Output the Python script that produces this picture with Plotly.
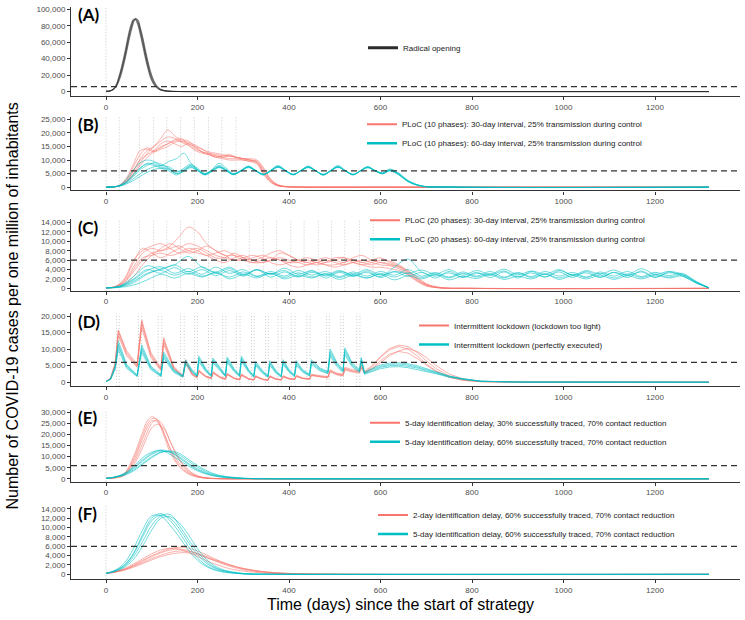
import plotly.graph_objects as go

# ---------------- DATA (values in thousands of cases per million) ----------------
threshold = 6000

# (A) Radical opening
A_days = [0, 10, 20, 30, 40, 50, 55, 60, 65, 70, 75, 80, 90, 100, 110, 120, 135, 150, 175, 200, 1318]
A_runs = [
    [0.3, 1, 5, 19, 40, 67, 78, 86, 88, 84, 74, 62, 36, 16, 6, 2, 0.5, 0.15, 0.03, 0.01, 0],
    [0.2, 0.8, 4, 15, 35, 61, 73, 83, 88.5, 87, 78, 67, 41, 20, 8, 2.8, 0.7, 0.2, 0.04, 0.01, 0],
    [0.3, 1.2, 6, 22, 45, 72, 82, 88, 86.5, 80, 69, 56, 31, 13, 5, 1.6, 0.4, 0.1, 0.03, 0.01, 0],
    [0.25, 0.9, 4.5, 17, 38, 64, 76, 85, 89, 85.5, 76, 64, 38, 18, 7, 2.4, 0.6, 0.15, 0.03, 0.01, 0],
    [0.28, 1.05, 5.3, 20, 42, 69, 80, 87, 87.5, 82, 71, 59, 33.5, 14.5, 5.5, 1.8, 0.45, 0.12, 0.03, 0.01, 0],
]

# (B) PLoC 10 phases
B_red_days = [0, 20, 30, 45, 60, 75, 90, 105, 120, 135, 150, 165, 180, 195, 210, 225, 240, 255, 270, 285,
              300, 315, 330, 345, 360, 375, 390, 420, 500, 700, 1318]
B_red_runs = [
    [0, 0.2, 0.6, 2.5, 6, 10.5, 13.5, 15, 17, 18.5, 18, 16.5, 15.5, 14, 13, 12.5, 12, 11.5, 11.5, 11, 10.5, 10, 9.5, 6, 2.5, 0.8, 0.3, 0.05, 0, 0, 0],
    [0, 0.2, 0.5, 2, 5, 9, 12.5, 15, 18, 21, 19, 17, 16, 15, 14, 13, 12.5, 12, 11.5, 11, 10.5, 10, 9, 5.5, 2.2, 0.7, 0.2, 0.05, 0, 0, 0],
    [0, 0.2, 0.7, 3, 7.5, 12, 14.5, 13.5, 15, 16, 17.5, 18, 15.5, 13.5, 12.5, 12, 11, 11.5, 12, 11, 10.5, 10.5, 10, 7, 3, 1, 0.3, 0.05, 0, 0, 0],
    [0, 0.15, 0.5, 1.8, 4.5, 8, 11, 13, 14.5, 16, 17, 17.5, 17, 15, 13, 12, 11.5, 11, 10.5, 10.5, 10, 9.5, 9, 5, 2, 0.6, 0.2, 0.05, 0, 0, 0],
    [0, 0.2, 0.6, 2.4, 6, 10, 12, 13.5, 16, 17, 16, 15, 16, 14.5, 13, 12, 11, 10.5, 10, 10, 10, 9.5, 8.5, 4.5, 1.8, 0.5, 0.2, 0.05, 0, 0, 0],
    [0, 0.2, 0.8, 3.5, 8.5, 13.5, 14, 13, 14, 15, 16.5, 17, 16.5, 15.5, 14, 12.5, 11.5, 11, 11.5, 11, 10.5, 10, 9.5, 6.5, 2.8, 0.9, 0.3, 0.05, 0, 0, 0],
]
B_cyan_days = [0, 20, 30, 45, 60, 75, 90, 105, 120, 137, 154, 170, 185, 200, 216, 232, 247, 263, 278, 295,
               311, 327, 344, 360, 376, 392, 409, 425, 442, 458, 475, 491, 507, 523, 540, 556, 572, 588, 605, 620,
               640, 660, 690, 750, 1318]
B_cyan_runs = [
    [0, 0.2, 0.6, 2.2, 4.8, 7.2, 8.5, 8, 7, 6, 4.5, 6, 7.5, 6, 4.5, 6, 7.5, 6, 4.6, 6, 7.4, 6, 4.5, 6, 7.5, 6, 4.6, 6, 7.4, 6, 4.5, 6, 7.5, 6, 4.6, 6, 7.3, 6, 5, 6.2, 4.8, 2.2, 0.4, 0.05, 0],
    [0, 0.2, 0.7, 3, 6.5, 9, 10, 9.5, 8, 9.5, 10.5, 12.5, 9, 6.5, 5, 6.5, 8, 6.5, 5, 6, 7.5, 6.2, 4.8, 6.2, 7.6, 6.2, 4.7, 5.9, 7.3, 6, 4.7, 6.2, 7.6, 6.1, 4.7, 6, 7.4, 6.1, 5.2, 6.5, 5, 2.4, 0.5, 0.05, 0],
    [0, 0.15, 0.4, 1.2, 2.5, 4, 5.5, 6.5, 7, 6.5, 5, 5.8, 7.2, 6.2, 4.8, 6, 7.2, 6, 4.7, 5.9, 7.2, 6.1, 4.8, 5.9, 7.3, 6.1, 4.8, 5.9, 7.2, 6.1, 4.8, 5.9, 7.3, 6.1, 4.8, 5.9, 7.1, 6.1, 5, 6, 4.5, 2, 0.35, 0.05, 0],
    [0, 0.2, 0.5, 1.8, 4, 6.5, 8, 9, 8.5, 7, 5.5, 7, 8.5, 7, 5, 6.5, 8.8, 7, 5, 6.2, 7.8, 6.3, 4.6, 6.3, 8, 6.3, 4.5, 6.1, 7.8, 6.2, 4.4, 6.2, 8, 6.2, 4.5, 6.1, 7.6, 6.2, 5.3, 6.7, 5.2, 2.5, 0.45, 0.05, 0],
    [0, 0.15, 0.45, 1.5, 3.2, 5, 6.5, 7.5, 8, 7.5, 6, 6.2, 7.8, 6.5, 4.6, 5.8, 7.4, 6.3, 4.7, 6.1, 7.6, 6.1, 4.7, 6.1, 7.6, 6.1, 4.6, 6, 7.5, 6.1, 4.6, 6.1, 7.5, 6, 4.6, 6.1, 7.4, 6, 4.9, 6.1, 4.6, 2.1, 0.4, 0.05, 0],
    [0, 0.2, 0.55, 2, 4.5, 7, 8.8, 8.5, 7.5, 6.8, 5, 6.5, 8, 6.4, 4.7, 6.2, 7.6, 6.2, 4.6, 6, 7.5, 6, 4.6, 6, 7.5, 6, 4.7, 6.1, 7.6, 6.1, 4.6, 6, 7.4, 6, 4.6, 6, 7.4, 6, 5.1, 6.3, 4.9, 2.3, 0.42, 0.05, 0],
]
B_phase_days = [0, 29, 73, 104, 133, 163, 193, 224, 253, 284]

# (C) PLoC 20 phases
C_red_days = [0, 20, 40, 60, 80, 100, 120, 140, 160, 180, 200, 220, 240, 260, 280, 300, 320, 340, 360, 380,
              400, 420, 440, 460, 480, 500, 520, 540, 560, 580, 600, 620, 640, 660, 680, 700, 730, 800, 1318]
C_red_runs = [
    [0.1, 0.3, 1.5, 4.5, 7.5, 8.5, 8, 8.5, 9, 8, 7.5, 7, 6, 5.5, 6.5, 7, 6, 5.5, 6, 7.5, 7, 6, 5.5, 5, 5.5, 6.5, 6.5, 6, 5.5, 6, 6.5, 5.5, 4.8, 3.5, 2, 0.8, 0.15, 0, 0],
    [0.1, 0.3, 1.2, 3.5, 6, 7.5, 8, 9, 11, 13, 12, 9.5, 8, 7, 7, 6.5, 6, 6.5, 7.5, 8, 7, 6, 5.5, 6, 6.5, 6, 5.5, 6.5, 7, 6, 5.5, 5, 4.5, 3.2, 1.8, 0.7, 0.1, 0, 0],
    [0.1, 0.4, 2, 6, 8, 9, 9.5, 8.5, 7.5, 8, 8.5, 7.5, 6.5, 6.5, 7.5, 6.5, 5.5, 5.5, 6, 6.5, 6, 5.5, 5, 5.5, 6, 5.5, 5, 5.5, 6, 5.5, 5, 4.8, 4.2, 3, 1.6, 0.6, 0.1, 0, 0],
    [0.1, 0.2, 0.8, 2.5, 5, 7, 8.5, 9.5, 8.5, 7.5, 8, 9, 8, 7, 6, 6, 6.5, 7, 6.5, 6, 5.5, 5.5, 6, 5.5, 5, 5, 5.5, 6, 5.5, 5, 5.5, 5.2, 4.6, 3.6, 2.2, 0.9, 0.2, 0, 0],
    [0.1, 0.3, 1.3, 4, 6.5, 7, 7.5, 7, 7.5, 8.5, 8, 7, 7.5, 8, 7, 6, 5.5, 6, 6.5, 6, 5, 4.5, 5, 5.5, 5, 4.5, 5, 5.5, 5, 4.5, 4.5, 4.2, 3.8, 2.8, 1.5, 0.5, 0.1, 0, 0],
    [0.1, 0.35, 1.8, 5.5, 8.5, 7.5, 6.5, 7.5, 8.5, 9.5, 9, 8, 7, 6.5, 6, 6.5, 7, 6.5, 5.5, 5, 5.5, 6, 6.5, 6, 5.5, 6, 6.5, 5.5, 5, 5.5, 6, 5.8, 5, 3.8, 2.4, 1, 0.2, 0, 0],
]
C_cyan_days = [0, 30, 60, 90, 120, 150, 180, 210, 240, 270, 300, 330, 360, 390, 420, 450, 480, 510, 540, 570,
               600, 630, 660, 690, 720, 750, 780, 810, 840, 870, 900, 930, 960, 990, 1020, 1050, 1080, 1110, 1140, 1170,
               1200, 1230, 1260, 1290, 1318]
C_cyan_runs = [
    [0.1, 0.4, 1.8, 3.8, 4.6, 3.2, 4.2, 3, 4.5, 3.2, 4, 2.6, 3.6, 2.6, 3.8, 2.8, 3.6, 2.5, 3.5, 2.6, 3.6, 2.8, 4, 2.6, 3.4, 2.4, 3.5, 2.6, 3.6, 2.4, 3.4, 2.5, 3.6, 2.6, 3.4, 2.4, 3.5, 2.6, 3.6, 2.5, 3.4, 2.7, 3.2, 1.4, 0.1],
    [0.1, 0.3, 1.2, 3, 4.2, 5, 6.8, 4.5, 3.5, 4.5, 3, 4, 3, 3.8, 2.5, 3.4, 2.8, 3.8, 2.7, 3.4, 2.5, 4.5, 6.2, 3.5, 2.6, 3.3, 2.3, 3.2, 2.8, 3.7, 2.5, 3.3, 2.4, 3.8, 2.8, 3.3, 2.3, 3.4, 2.7, 3.5, 2.4, 3.3, 2.8, 1.2, 0.1],
    [0.1, 0.2, 0.7, 1.8, 3, 2.2, 3.2, 2.4, 3.4, 2, 3, 2.2, 3.2, 2, 2.8, 2.2, 3, 1.9, 2.8, 2.2, 3, 1.8, 2.7, 2, 2.9, 1.8, 2.6, 2.1, 2.9, 1.9, 2.6, 2, 3, 1.9, 2.7, 2, 2.8, 1.9, 2.7, 2, 2.8, 2.2, 2.6, 1.1, 0.1],
    [0.1, 0.5, 2.5, 4.8, 4, 5, 3.5, 4.6, 3.2, 4.2, 2.8, 4, 3, 4.3, 3, 3.8, 2.6, 3.6, 3, 4, 2.8, 3.6, 3.2, 3.9, 3, 4, 2.8, 3.8, 3, 4.1, 2.9, 3.7, 3, 4, 2.8, 3.8, 3, 3.9, 2.9, 4.2, 3, 3.6, 3, 1.5, 0.1],
    [0.1, 0.35, 1.5, 3.2, 3.8, 2.8, 3.6, 2.6, 3.3, 2.4, 3.5, 2.5, 3.2, 2.3, 3.3, 2.4, 3.2, 2.3, 3.1, 2.2, 3.2, 2.4, 3.3, 2.3, 3.1, 2.2, 3.2, 2.4, 3.1, 2.2, 3.2, 2.3, 3.1, 2.2, 3, 2.3, 3.2, 2.2, 3.1, 2.3, 3, 2.4, 2.9, 1.3, 0.1],
    [0.1, 0.45, 2, 4, 3.2, 4.4, 3, 4, 2.7, 3.8, 2.6, 3.9, 2.4, 3.5, 2.4, 3.7, 2.2, 3.4, 2.5, 3.7, 2.3, 3.5, 2.6, 3.4, 2.2, 3.6, 2.4, 3.4, 2.3, 3.5, 2.2, 3.6, 2.4, 3.5, 2.3, 3.6, 2.4, 3.4, 2.3, 3.7, 2.3, 3.5, 2.6, 1.2, 0.1],
]
C_phase_days = [0, 29, 73, 104, 133, 163, 193, 224, 253, 284, 313, 344, 373, 404, 433, 464, 493, 522, 554, 584]

# (D) Intermittent lockdown
D_days = [0, 10, 20, 27, 45, 68, 78, 98, 120, 126, 148, 168, 174, 188, 199, 203, 218, 230, 234, 250, 261,
          265, 280, 292, 296, 312, 323, 327, 342, 354, 358, 371, 383, 387, 400, 412, 416, 430, 445,
          449, 468, 485, 490, 505, 518, 522, 538, 554, 558,
          565, 580, 600, 620, 640, 660, 680, 700, 720, 750, 780, 820, 900, 1318]
D_red_runs = [
    [0.2, 1.2, 5.5, 15.5, 9, 5, 18.5, 8.5, 4, 13, 4.5, 1.8, 6.5, 2.5, 1.5, 3.5, 1.8, 1.2, 3, 1.5, 1, 2.5, 1.2, 0.8, 2.3, 1, 0.7, 1.8, 0.9, 0.6, 1.8, 1, 0.7, 1.8, 1.1, 0.9, 1.9, 1.2, 1, 2.2, 1.8, 1.5, 3.5, 2.5, 2.2, 4.2, 3.5, 3.2, 4.8, 3, 4.5, 7.5, 9.8, 10.8, 10, 8, 5.5, 3.5, 1.5, 0.6, 0.15, 0.02, 0],
    [0.2, 1, 5, 14, 8, 4.5, 16.5, 7.5, 3.5, 11.5, 4, 1.6, 5.8, 2.2, 1.3, 3.1, 1.6, 1.1, 2.7, 1.3, 0.9, 2.2, 1.1, 0.7, 2, 0.9, 0.6, 1.6, 0.8, 0.5, 1.6, 0.9, 0.6, 1.6, 1, 0.8, 1.7, 1.1, 0.9, 2, 1.6, 1.3, 3.1, 2.2, 1.9, 3.7, 3.1, 2.8, 4.3, 2.7, 4, 6.5, 8.5, 9.3, 8.8, 7.2, 5.2, 3.4, 1.5, 0.6, 0.15, 0.02, 0],
    [0.2, 1.3, 6, 15.8, 9.5, 5.5, 18.8, 9, 4.3, 13.5, 4.8, 2, 6.8, 2.7, 1.6, 3.7, 1.9, 1.3, 3.2, 1.6, 1.1, 2.7, 1.3, 0.9, 2.5, 1.1, 0.8, 2, 1, 0.7, 2, 1.1, 0.8, 2, 1.2, 1, 2.1, 1.3, 1.1, 2.4, 2, 1.7, 3.8, 2.7, 2.4, 4.5, 3.8, 3.5, 5.2, 3.3, 4.8, 7.8, 10.2, 11.2, 10.8, 9, 6.5, 4.2, 1.9, 0.8, 0.2, 0.03, 0],
    [0.2, 1.1, 5.2, 14.8, 8.5, 4.8, 17.5, 8, 3.8, 12.3, 4.3, 1.7, 6.2, 2.4, 1.4, 3.3, 1.7, 1.1, 2.8, 1.4, 0.9, 2.4, 1.1, 0.8, 2.2, 1, 0.7, 1.7, 0.9, 0.6, 1.7, 0.9, 0.7, 1.7, 1, 0.8, 1.8, 1.1, 0.9, 2.1, 1.7, 1.4, 3.3, 2.4, 2, 4, 3.3, 3, 4.5, 2.9, 3.8, 6, 8, 9.5, 10.2, 9.3, 7.5, 5.2, 2.5, 1, 0.25, 0.03, 0],
]
D_cyan_runs = [
    [0.2, 1, 4.5, 11.5, 5, 2, 10.5, 4.5, 2, 8.5, 3.5, 1.8, 6.3, 3.5, 2, 7.3, 3.8, 2, 6.8, 3.8, 2, 7, 3.8, 2, 7.3, 3.5, 1.8, 5.8, 3.2, 1.8, 6, 3.3, 1.8, 6.3, 3.5, 2, 6, 3.5, 2.2, 6.3, 4, 3, 9.3, 5.5, 3.5, 9.8, 5.5, 3.5, 7, 2.8, 3.8, 4.8, 5.4, 5.5, 5.2, 4.6, 3.8, 3, 1.8, 1, 0.3, 0.05, 0],
    [0.2, 0.8, 3.8, 9.8, 4.2, 1.7, 9, 3.8, 1.7, 7.3, 3, 1.5, 5.4, 3, 1.7, 6.2, 3.2, 1.7, 5.8, 3.2, 1.7, 6, 3.2, 1.7, 6.2, 3, 1.5, 5, 2.7, 1.5, 5.1, 2.8, 1.5, 5.4, 3, 1.7, 5.1, 3, 1.9, 5.4, 3.4, 2.6, 7.9, 4.7, 3, 8.3, 4.7, 3, 6, 2.4, 3.2, 4.1, 4.6, 4.7, 4.4, 3.9, 3.2, 2.6, 1.5, 0.85, 0.25, 0.04, 0],
    [0.2, 1.1, 5, 12.5, 5.4, 2.2, 11.3, 4.9, 2.2, 9.2, 3.8, 2, 6.8, 3.8, 2.2, 7.9, 4.1, 2.2, 7.3, 4.1, 2.2, 7.6, 4.1, 2.2, 7.9, 3.8, 2, 6.3, 3.5, 2, 6.5, 3.6, 2, 6.8, 3.8, 2.2, 6.5, 3.8, 2.4, 6.8, 4.3, 3.2, 10, 5.9, 3.8, 10.4, 5.9, 3.8, 7.5, 3, 4.1, 5.2, 5.8, 5.9, 5.6, 5, 4.1, 3.2, 1.9, 1.1, 0.32, 0.05, 0],
    [0.2, 0.9, 4.2, 10.8, 4.6, 1.9, 9.8, 4.2, 1.9, 7.9, 3.3, 1.7, 5.9, 3.3, 1.9, 6.8, 3.5, 1.9, 6.3, 3.5, 1.9, 6.5, 3.5, 1.9, 6.8, 3.3, 1.7, 5.4, 3, 1.7, 5.6, 3.1, 1.7, 5.9, 3.3, 1.9, 5.6, 3.3, 2, 5.9, 3.7, 2.8, 8.6, 5.1, 3.3, 9.1, 5.1, 3.3, 6.5, 2.6, 3.5, 4.5, 5, 5.1, 4.8, 4.3, 3.5, 2.8, 1.7, 0.93, 0.28, 0.05, 0],
]
D_phase_days = [23, 29, 71, 78, 114, 122, 163, 171, 194, 200, 224, 231, 255, 262, 285, 293,
                318, 324, 349, 355, 376, 384, 405, 413, 439, 446, 482, 488, 513, 519, 548, 555]

# (E) Contact tracing, 5-day delay
E_red_days = [0, 20, 40, 60, 80, 90, 100, 110, 120, 130, 140, 160, 180, 200, 220, 250, 300, 400, 1318]
E_red_runs = [
    [0.2, 0.5, 2, 8, 18, 23, 26, 26, 23.5, 19, 14, 7, 3, 1, 0.3, 0.05, 0, 0, 0],
    [0.2, 0.6, 2.5, 10, 21, 26, 28, 27, 23, 17.5, 12, 5.5, 2.2, 0.8, 0.25, 0.05, 0, 0, 0],
    [0.2, 0.4, 1.5, 6, 14, 19, 23, 24.5, 24, 21.5, 17, 9, 4, 1.4, 0.45, 0.08, 0, 0, 0],
    [0.2, 0.5, 1.8, 7, 16, 21, 25, 26.5, 25.5, 22, 17, 8.5, 3.5, 1.2, 0.4, 0.07, 0, 0, 0],
    [0.2, 0.55, 2.2, 9, 19.5, 24.5, 27, 27, 24, 19, 13.5, 6, 2.5, 0.9, 0.3, 0.05, 0, 0, 0],
]
E_cyan_days = [0, 20, 40, 60, 80, 100, 120, 140, 160, 180, 200, 225, 250, 300, 350, 400, 1318]
E_cyan_runs = [
    [0.2, 0.8, 2, 4.5, 8, 11, 12.5, 12, 10, 7, 4.5, 2.3, 1.1, 0.2, 0.05, 0.01, 0],
    [0.2, 0.9, 2.5, 5.5, 9.5, 12, 12.8, 11, 8.5, 5.8, 3.6, 1.8, 0.8, 0.15, 0.03, 0.01, 0],
    [0.2, 0.7, 1.6, 3.5, 6.5, 9.5, 11.8, 12.6, 11.5, 8.8, 6, 3.2, 1.5, 0.3, 0.06, 0.01, 0],
    [0.2, 0.75, 1.8, 4, 7, 10, 12, 12.3, 10.8, 8, 5.3, 2.7, 1.3, 0.25, 0.05, 0.01, 0],
    [0.2, 0.8, 2.2, 5, 8.5, 11.5, 13, 12, 9.5, 6.5, 4, 2, 0.9, 0.18, 0.04, 0.01, 0],
]

# (F) Contact tracing, 60% traced
F_red_days = [0, 20, 40, 60, 80, 100, 120, 140, 160, 180, 200, 225, 250, 275, 300, 350, 400, 450, 1318]
F_red_runs = [
    [0.2, 0.5, 1, 1.8, 2.8, 3.8, 4.6, 5.2, 5.4, 5.1, 4.4, 3.4, 2.4, 1.6, 1, 0.4, 0.15, 0.05, 0],
    [0.2, 0.6, 1.2, 2.2, 3.3, 4.4, 5.2, 5.6, 5.4, 4.7, 3.8, 2.7, 1.8, 1.1, 0.7, 0.25, 0.08, 0.03, 0],
    [0.2, 0.45, 0.9, 1.5, 2.3, 3.1, 3.8, 4.3, 4.6, 4.6, 4.2, 3.4, 2.6, 1.8, 1.2, 0.5, 0.2, 0.06, 0],
    [0.2, 0.55, 1.1, 2, 3, 4, 4.8, 5.5, 5.8, 5.6, 5, 3.9, 2.8, 1.9, 1.2, 0.45, 0.15, 0.05, 0],
    [0.2, 0.5, 1, 1.7, 2.5, 3.4, 4.1, 4.7, 5, 4.9, 4.5, 3.6, 2.7, 1.9, 1.3, 0.5, 0.2, 0.06, 0],
]
F_cyan_days = [0, 20, 40, 60, 80, 100, 120, 140, 160, 180, 200, 225, 250, 300, 350, 400, 1318]
F_cyan_runs = [
    [0.2, 0.8, 2, 4.5, 8.5, 12, 13, 11.5, 9, 6, 3.5, 1.6, 0.7, 0.1, 0.02, 0, 0],
    [0.2, 0.7, 1.7, 3.8, 7, 10.5, 12.5, 12.8, 10.5, 7.5, 4.8, 2.3, 1, 0.15, 0.03, 0, 0],
    [0.2, 0.9, 2.4, 5.5, 9.5, 12.5, 12.5, 10.5, 8, 5.2, 3, 1.4, 0.6, 0.1, 0.02, 0, 0],
    [0.2, 0.65, 1.5, 3.2, 6, 9.5, 12, 12.3, 11, 8.5, 5.5, 2.7, 1.2, 0.2, 0.03, 0, 0],
    [0.2, 0.75, 1.9, 4.3, 8, 11.5, 12.7, 12, 9.8, 6.8, 4.2, 2, 0.9, 0.15, 0.03, 0, 0],
]
start_day = [0]

x_ticks = [0, 200, 400, 600, 800, 1000, 1200]
A_yticks = [0, 20000, 40000, 60000, 80000, 100000]
B_yticks = [0, 5000, 10000, 15000, 20000, 25000]
C_yticks = [0, 2000, 4000, 6000, 8000, 10000, 12000, 14000]
D_yticks = [0, 5000, 10000, 15000, 20000]
E_yticks = [0, 5000, 10000, 15000, 20000, 25000, 30000]
F_yticks = [0, 2000, 4000, 6000, 8000, 10000, 12000, 14000]

panel_letters = ["(A)", "(B)", "(C)", "(D)", "(E)", "(F)"]
A_labels = ["Radical opening"]
B_labels = ["PLoC (10 phases): 30-day interval, 25% transmission during control",
            "PLoC (10 phases): 60-day interval, 25% transmission during control"]
C_labels = ["PLoC (20 phases): 30-day interval, 25% transmission during control",
            "PLoC (20 phases): 60-day interval, 25% transmission during control"]
D_labels = ["Intermittent lockdown (lockdown too light)",
            "Intermittent lockdown (perfectly executed)"]
E_labels = ["5-day identification delay, 30% successfully traced, 70% contact reduction",
            "5-day identification delay, 60% successfully traced, 70% contact reduction"]
F_labels = ["2-day identification delay, 60% successfully traced, 70% contact reduction",
            "5-day identification delay, 60% successfully traced, 70% contact reduction"]
y_title = "Number of COVID-19 cases per one million of inhabitants"
x_title = "Time (days) since the start of strategy"

# ---------------- STYLE / LAYOUT ----------------
W, H = 745, 620
RED, CYAN, DARK = "#F8766D", "#00BFC4", "#2b2b2b"
FONT = "Liberation Sans, Arial, sans-serif"
X_LEFT_PX, X_RIGHT_PX = 71, 740
X0_PX, PX_PER_DAY = 106, 0.4575


def py(px):
    return 1 - px / H


def pxx(px):
    return px / W


# bottom px, top px, zero px, px per 1000 cases, legend text x px, legend first-item y px
panel_geo = [
    (95, 5, 90.3, 0.83, 403, 49),
    (190, 116, 186.7, 2.736, 402, 126),
    (291, 219, 288.7, 4.743, 405, 223),
    (387, 314, 383.3, 3.333, 454, 329),
    (483.5, 411, 480.7, 2.235, 405, 427),
    (582, 508, 577, 4.714, 413, 520),
]

panels = [
    dict(series=[(A_days, A_runs, DARK)], legend=[(A_labels[0], DARK, 3)], yticks=A_yticks, phases=start_day),
    dict(series=[(B_red_days, B_red_runs, RED), (B_cyan_days, B_cyan_runs, CYAN)],
         legend=[(B_labels[0], RED, 2), (B_labels[1], CYAN, 2.5)], yticks=B_yticks, phases=B_phase_days),
    dict(series=[(C_red_days, C_red_runs, RED), (C_cyan_days, C_cyan_runs, CYAN)],
         legend=[(C_labels[0], RED, 2), (C_labels[1], CYAN, 2.5)], yticks=C_yticks, phases=C_phase_days),
    dict(series=[(D_days, D_red_runs, RED), (D_days, D_cyan_runs, CYAN)],
         legend=[(D_labels[0], RED, 2), (D_labels[1], CYAN, 2.5)], yticks=D_yticks, phases=D_phase_days,
         linear=True),
    dict(series=[(E_red_days, E_red_runs, RED), (E_cyan_days, E_cyan_runs, CYAN)],
         legend=[(E_labels[0], RED, 2), (E_labels[1], CYAN, 2.5)], yticks=E_yticks, phases=start_day),
    dict(series=[(F_red_days, F_red_runs, RED), (F_cyan_days, F_cyan_runs, CYAN)],
         legend=[(F_labels[0], RED, 2), (F_labels[1], CYAN, 2.5)], yticks=F_yticks, phases=start_day),
]

fig = go.Figure()
shapes, annotations = [], []
layout = dict(width=W, height=H, margin=dict(l=0, r=0, t=0, b=0),
              plot_bgcolor="white", paper_bgcolor="white",
              font=dict(family=FONT, color="#1a1a1a"), hovermode=False)

x_range = [(X_LEFT_PX - X0_PX) / PX_PER_DAY, (X_RIGHT_PX - X0_PX) / PX_PER_DAY]

for i, (p, geo) in enumerate(zip(panels, panel_geo)):
    n = i + 1
    sfx = "" if n == 1 else str(n)
    xa, ya = "x" + sfx, "y" + sfx
    lg = "legend" + sfx
    bot, top, zero, ppk, leg_x, leg_y = geo
    y_range = [(zero - bot) / ppk * 1000, (zero - top) / ppk * 1000]

    layout["xaxis" + sfx] = dict(domain=[pxx(X_LEFT_PX), pxx(X_RIGHT_PX)], range=x_range, anchor=ya,
                                 tickvals=x_ticks, ticks="outside", ticklen=3, tickcolor="#333",
                                 showline=True, linecolor="#333", linewidth=1.3, showgrid=False,
                                 zeroline=False, tickfont=dict(size=8, color="#4d4d4d", family=FONT))
    layout["yaxis" + sfx] = dict(domain=[py(bot), py(top)], range=y_range, anchor=xa,
                                 tickvals=p["yticks"], tickformat=",d", ticks="outside", ticklen=3,
                                 tickcolor="#333", showline=True, linecolor="#333", linewidth=1,
                                 showgrid=False, zeroline=False,
                                 tickfont=dict(size=8, color="#4d4d4d", family=FONT))

    for d in p["phases"]:
        shapes.append(dict(type="line", xref=xa, yref=ya + " domain", x0=d, x1=d, y0=0, y1=1,
                           line=dict(color="#c4c4c4", width=0.9, dash="1px,2px"), layer="below"))

    shape_kind = "linear" if p.get("linear") else "spline"
    for days, runs, col in p["series"]:
        for run in runs:
            fig.add_trace(go.Scatter(x=days, y=[v * 1000 for v in run], mode="lines",
                                     line=dict(color=col, width=0.8, shape=shape_kind),
                                     opacity=0.7, xaxis=xa, yaxis=ya, showlegend=False,
                                     hoverinfo="skip"))

    shapes.append(dict(type="line", xref=xa + " domain", yref=ya, x0=0, x1=1,
                       y0=threshold, y1=threshold,
                       line=dict(color="#333333", width=1.2, dash="6px,4px"), layer="above"))

    for name, col, w in p["legend"]:
        fig.add_trace(go.Scatter(x=[None], y=[None], mode="lines", name=name,
                                 line=dict(color=col, width=w), xaxis=xa, yaxis=ya,
                                 legend=lg, showlegend=True))
    layout[lg] = dict(x=pxx(leg_x - 40), y=py(leg_y - 17.5), xanchor="left", yanchor="top",
                      bgcolor="rgba(0,0,0,0)", font=dict(size=8, color="#1a1a1a", family=FONT),
                      itemwidth=30, tracegroupgap=0, traceorder="normal")

    annotations.append(dict(text="<b>" + panel_letters[i] + "</b>", xref="paper", yref="paper",
                            x=pxx(76), y=py(top + 8), xanchor="left", yanchor="middle",
                            showarrow=False, font=dict(family="Lato, Carlito, sans-serif", size=17,
                                                       color="black")))

annotations.append(dict(text=y_title, xref="paper", yref="paper", x=pxx(13), y=py(307),
                        textangle=-90, showarrow=False, xanchor="center", yanchor="middle",
                        font=dict(size=16, color="black", family=FONT)))
annotations.append(dict(text=x_title, xref="paper", yref="paper", x=pxx(400), y=py(607),
                        showarrow=False, xanchor="center", yanchor="middle",
                        font=dict(size=16, color="black", family=FONT)))

layout["shapes"] = shapes
layout["annotations"] = annotations
fig.update_layout(**layout)
fig.write_html("out.html", config={"displayModeBar": False},
               post_script="document.body.style.margin='0';document.body.style.padding='0';")
